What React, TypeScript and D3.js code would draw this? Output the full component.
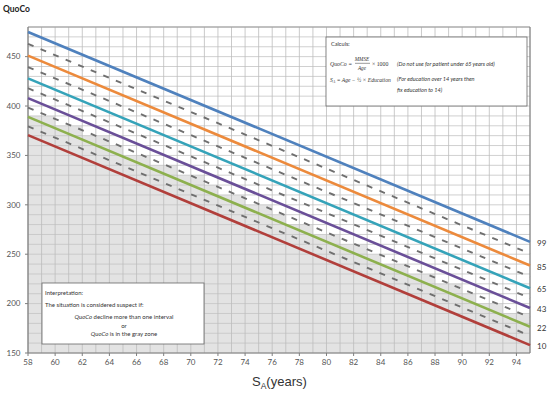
import React from "react";
import * as d3 from "d3";

const percentiles = ["99", "85", "65", "43", "22", "10"];
const lineColors = ["#4f81bd", "#ec8a3c", "#35a3b9", "#6a4f98", "#8db04e", "#b13f3b"];
const startYear = 58;
const endYear = 95;
const startValues = [475, 451, 428, 408, 389, 370.5];
const endValues = [262.5, 238.5, 215.5, 195.5, 176.5, 158];
const dashedStart = [463, 439.5, 418, 398.5, 379.5];
const dashedEnd = [250.5, 227, 205.5, 186, 167.5];
const xTicks = d3.range(58, 95, 2);
const yTicks = [150, 200, 250, 300, 350, 400, 450];
const yGrid = d3.range(150, 481, 10);
const xGrid = d3.range(58, 96, 1);
const grayRef = 4; // index of the 22nd percentile line bounding the gray zone

const W = 550;
const H = 394;
const font = "Lato, 'Open Sans', sans-serif";
const mathFont = "'Liberation Serif', 'DejaVu Serif', serif";

export default function App() {
  const x = d3.scaleLinear().domain([startYear, endYear]).range([28, 530]);
  const y = d3.scaleLinear().domain([150, 480]).range([353, 27]);
  const line = d3
    .line<[number, number]>()
    .x((d) => x(d[0]))
    .y((d) => y(d[1]));

  const valAt = (i: number, t: number) =>
    startValues[i] + ((endValues[i] - startValues[i]) * (t - startYear)) / (endYear - startYear);

  const cols = d3.range(startYear, endYear, 1);
  const grayPts: [number, number][] = [];
  cols.forEach((c) => {
    const top = Math.ceil(valAt(grayRef, c) / 10) * 10;
    grayPts.push([c, top], [c + 1, top]);
  });
  const grayArea = d3
    .area<[number, number]>()
    .x((d) => x(d[0]))
    .y0(y(150))
    .y1((d) => y(d[1]));

  return (
    <svg
      width={W}
      height={H}
      style={{ position: "absolute", left: 0, top: 0, background: "#fff" }}
      fontFamily={font}
    >
      <rect x={0} y={0} width={W} height={H} fill="#fff" />
      <text x={3} y={12} fontSize={8.5} fontWeight="bold" fill="#222">
        QuoCo
      </text>

      <path d={grayArea(grayPts) || ""} fill="#e3e3e3" />

      {yGrid.map((v) => (
        <line key={"h" + v} x1={x(startYear)} x2={x(endYear)} y1={y(v)} y2={y(v)} stroke="#c4c4c4" strokeWidth={0.8} />
      ))}
      {xGrid.map((v) => (
        <line key={"v" + v} x1={x(v)} x2={x(v)} y1={y(480)} y2={y(150)} stroke="#bcbcbc" strokeWidth={0.8} />
      ))}

      <line x1={x(startYear)} x2={x(endYear)} y1={y(480)} y2={y(480)} stroke="#999" strokeWidth={1} />
      <line x1={x(endYear)} x2={x(endYear)} y1={y(480)} y2={y(150)} stroke="#777" strokeWidth={1} />
      <line x1={x(startYear)} x2={x(startYear)} y1={y(480)} y2={y(150)} stroke="#7f7f7f" strokeWidth={1.2} />
      <line x1={x(startYear)} x2={x(endYear)} y1={y(150)} y2={y(150)} stroke="#7f7f7f" strokeWidth={1.2} />

      {yTicks.map((v) => (
        <g key={"yt" + v}>
          <line x1={x(startYear) - 3} x2={x(startYear)} y1={y(v)} y2={y(v)} stroke="#7f7f7f" />
          <text x={20.5} y={y(v)} dy="0.35em" textAnchor="end" fontSize={8} fill="#555">
            {v}
          </text>
        </g>
      ))}
      {xTicks.map((v) => (
        <g key={"xt" + v}>
          <line x1={x(v)} x2={x(v)} y1={y(150)} y2={y(150) + 3} stroke="#7f7f7f" />
          <text x={x(v)} y={364.5} textAnchor="middle" fontSize={8} fill="#555">
            {v}
          </text>
        </g>
      ))}

      {dashedStart.map((s, i) => (
        <path
          key={"d" + i}
          d={line([
            [startYear, s],
            [endYear, dashedEnd[i]],
          ]) || ""}
          stroke="#6f6f6f"
          strokeWidth={1.9}
          strokeDasharray="6 7.6"
          fill="none"
        />
      ))}

      {startValues.map((s, i) => (
        <path
          key={"l" + i}
          d={line([
            [startYear, s],
            [endYear, endValues[i]],
          ]) || ""}
          stroke={lineColors[i]}
          strokeWidth={2.6}
          fill="none"
        />
      ))}

      {percentiles.map((p, i) => (
        <text key={"p" + p} x={537} y={y(endValues[i]) + 1.2} dy="0.35em" fontSize={8} fill="#333">
          {p}
        </text>
      ))}

      <text x={252} y={386} fontSize={13} fill="#333" fontFamily="'Liberation Sans', Arial, sans-serif">
        S<tspan fontSize={8.5} dy={3}>A</tspan>
        <tspan dy={-3}>(years)</tspan>
      </text>

      <rect x={326} y={37} width={201} height={69} fill="#fff" stroke="#666" strokeWidth={0.8} />
      <g fontSize={5.6} fill="#333">
        <text x={331} y={46}>Calculs:</text>
        <text x={330} y={66} fontStyle="italic" fontFamily={mathFont} fontSize={5.8}>
          QuoCo =
        </text>
        <text x={362} y={61} textAnchor="middle" fontStyle="italic" fontFamily={mathFont} fontSize={5.2}>
          MMSE
        </text>
        <line x1={355} x2={370} y1={63.3} y2={63.3} stroke="#333" strokeWidth={0.5} />
        <text x={362} y={69.5} textAnchor="middle" fontStyle="italic" fontFamily={mathFont} fontSize={5.2}>
          Age
        </text>
        <text x={372} y={66} fontFamily={mathFont} fontSize={5.8}>
          × 1000
        </text>
        <text x={397} y={66} fontStyle="italic">
          (Do not use for patient under 65 years old)
        </text>
        <text x={330} y={81.5} fontStyle="italic" fontFamily={mathFont} fontSize={5.6}>
          S<tspan fontSize={4} dy={1}>A</tspan>
          <tspan dy={-1}> = Age − ½ × Education</tspan>
        </text>
        <text x={397} y={81} fontStyle="italic">
          (For education over 14 years then
        </text>
        <text x={397} y={92} fontStyle="italic">
          fix education to 14)
        </text>
      </g>

      <rect x={42} y={283} width={162} height={61} fill="#fff" stroke="#666" strokeWidth={0.8} />
      <g fontSize={6} fill="#333">
        <text x={45} y={295}>Interpretation:</text>
        <text x={45} y={307}>The situation is considered suspect if:</text>
        <text x={124} y={319} textAnchor="middle">
          <tspan fontStyle="italic">QuoCo</tspan> decline more than one interval
        </text>
        <text x={124} y={327.5} textAnchor="middle">
          or
        </text>
        <text x={124} y={336} textAnchor="middle">
          <tspan fontStyle="italic">QuoCo</tspan> is in the gray zone
        </text>
      </g>
    </svg>
  );
}
